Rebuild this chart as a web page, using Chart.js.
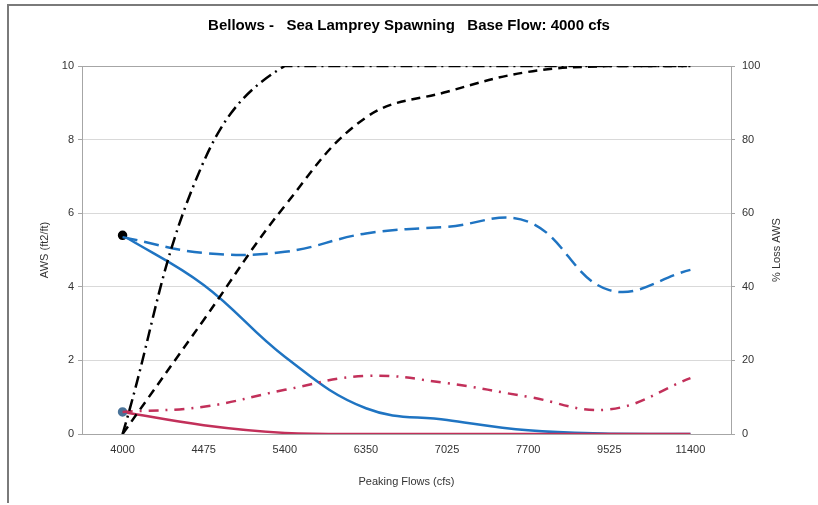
<!DOCTYPE html>
<html>
<head>
<meta charset="utf-8">
<script src="https://cdn.jsdelivr.net/npm/chart.js@4"></script>
<style>
    html, body { margin: 0; padding: 0; background: #fff; }
    #wrap { width: 818px; height: 505px; position: relative; }
</style>
</head>
<body>
<div id="wrap"><canvas id="chart"></canvas></div>
<script>
// Data
const flows = ["4000", "4475", "5400", "6350", "7025", "7700", "9525", "11400"];
const awsBlue = [5.4, 4.05, 2.1, 0.7, 0.38, 0.1, 0.01, 0];
const awsBlueDash = [5.35, 4.92, 4.95, 5.45, 5.63, 5.77, 3.91, 4.46];
const awsRed = [0.6, 0.24, 0.03, 0, 0, 0, 0, 0];
const awsRedDashDot = [0.6, 0.74, 1.2, 1.58, 1.38, 1.01, 0.67, 1.52];
const lossDash = [0, 31, 62, 86, 93, 98.4, 100, 100];
const lossDashDot = [0, 74, 100, 100, 100, 100, 100, 100];
const leftTicks = [0, 2, 4, 6, 8, 10];
const rightTicks = [0, 20, 40, 60, 80, 100];

const FONT = "'Liberation Sans', Arial, sans-serif";
const BLUE = "#1f74c2";
const RED = "#c2305a";

// First point only gets a marker
const firstOnly = (r) => flows.map((_, i) => (i === 0 ? r : 0));

// Frame around the figure + right axis title (reads bottom to top)
const decorations = {
    id: "decorations",
    afterDraw(c) {
        const ctx = c.ctx;
        ctx.save();
        ctx.strokeStyle = "#7a7a7a";
        ctx.lineWidth = 2;
        ctx.beginPath();
        ctx.moveTo(818, 5);
        ctx.lineTo(8, 5);
        ctx.lineTo(8, 503);
        ctx.stroke();

        ctx.translate(777, (c.chartArea.top + c.chartArea.bottom) / 2);
        ctx.rotate(-Math.PI / 2);
        ctx.fillStyle = "#333";
        ctx.font = "11px " + FONT;
        ctx.textAlign = "center";
        ctx.textBaseline = "middle";
        ctx.fillText("% Loss AWS", 0, 0);
        ctx.restore();
    },
};

new Chart(document.getElementById("chart"), {
    type: "line",
    data: {
        labels: flows,
        datasets: [
            {
                data: lossDashDot,
                yAxisID: "y2",
                borderColor: "#000",
                borderWidth: 2.5,
                borderDash: [12, 5, 2, 5],
                pointRadius: 0,
                tension: 0.4,
            },
            {
                data: lossDash,
                yAxisID: "y2",
                borderColor: "#000",
                borderWidth: 2.5,
                borderDash: [9, 6],
                pointRadius: 0,
                tension: 0.4,
            },
            {
                data: awsBlueDash,
                yAxisID: "y",
                borderColor: BLUE,
                borderWidth: 2.5,
                borderDash: [15, 7],
                pointRadius: 0,
                tension: 0.4,
            },
            {
                data: awsRedDashDot,
                yAxisID: "y",
                borderColor: RED,
                borderWidth: 2.5,
                borderDash: [10, 7, 2, 7],
                pointRadius: 0,
                tension: 0.4,
            },
            {
                data: awsRed,
                yAxisID: "y",
                borderColor: RED,
                borderWidth: 2.5,
                pointRadius: firstOnly(3.5),
                pointBackgroundColor: "#4a7399",
                pointBorderColor: "#4a7399",
                tension: 0.4,
            },
            {
                data: awsBlue,
                yAxisID: "y",
                borderColor: BLUE,
                borderWidth: 2.5,
                pointRadius: firstOnly(3.5),
                pointBackgroundColor: "#000",
                pointBorderColor: "#000",
                tension: 0.4,
            },
        ],
    },
    options: {
        responsive: true,
        maintainAspectRatio: false,
        animation: false,
        layout: { padding: 0 },
        plugins: {
            legend: { display: false },
            tooltip: { enabled: false },
            title: {
                display: true,
                text: "Bellows -   Sea Lamprey Spawning   Base Flow: 4000 cfs",
                color: "#000",
                font: { family: FONT, size: 15, weight: "bold" },
                padding: { top: 17, bottom: 31 },
            },
        },
        scales: {
            x: {
                offset: true,
                afterFit: (s) => { s.height = 71; },
                grid: { display: true, drawOnChartArea: false, drawTicks: false },
                border: { color: "#a6a6a6", width: 1 },
                ticks: { color: "#333", font: { family: FONT, size: 11 }, padding: 9 },
                title: {
                    display: true,
                    text: "Peaking Flows (cfs)",
                    color: "#333",
                    font: { family: FONT, size: 11 },
                    padding: { top: 16, bottom: 16 },
                },
            },
            y: {
                position: "left",
                min: 0,
                max: 10,
                afterFit: (s) => { s.width = 82; },
                afterBuildTicks: (s) => { s.ticks = leftTicks.map((v) => ({ value: v })); },
                grid: {
                    color: (ctx) => (ctx.tick && ctx.tick.value === 10 ? "#a6a6a6" : "#d9d9d9"),
                    tickColor: "#a6a6a6",
                    tickLength: 4,
                },
                border: { color: "#a6a6a6", width: 1 },
                ticks: { color: "#333", font: { family: FONT, size: 11 }, padding: 4 },
                title: {
                    display: true,
                    text: "AWS (ft2/ft)",
                    color: "#333",
                    font: { family: FONT, size: 11 },
                    padding: { top: 38, bottom: 38 },
                },
            },
            y2: {
                position: "right",
                min: 0,
                max: 100,
                afterFit: (s) => { s.width = 87; },
                afterBuildTicks: (s) => { s.ticks = rightTicks.map((v) => ({ value: v })); },
                grid: { drawOnChartArea: false, tickColor: "#a6a6a6", tickLength: 4 },
                border: { color: "#a6a6a6", width: 1 },
                ticks: { color: "#333", font: { family: FONT, size: 11 }, padding: 7 },
            },
        },
    },
    plugins: [decorations],
});
</script>
</body>
</html>
